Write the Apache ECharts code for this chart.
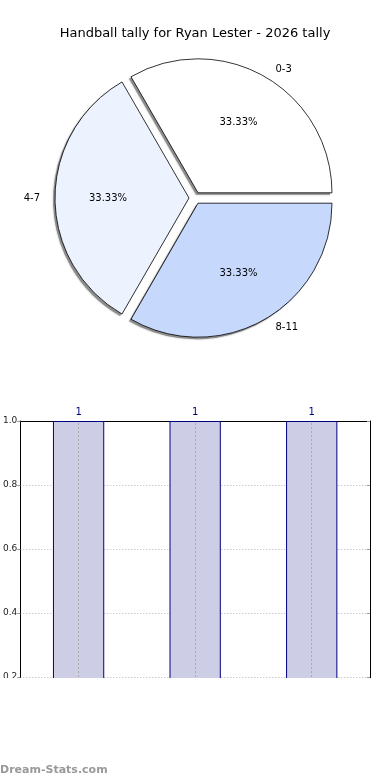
<!DOCTYPE html>
<html>
<head>
<meta charset="utf-8">
<script src="https://cdn.jsdelivr.net/npm/echarts@6/dist/echarts.min.js"></script>
<style>html,body{margin:0;padding:0;background:#fff}#c{width:390px;height:780px}</style>
</head>
<body>
<div id="c"></div>
<script>
const titleText = 'Handball tally for Ryan Lester - 2026 tally';
const categories = ['0-3', '4-7', '8-11'];
const pieValues = [1, 1, 1];
const barValues = [1, 1, 1];
const sliceColors = ['#ffffff', '#ecf2fe', '#c6d9fd'];
const yTicks = [0.0, 0.2, 0.4, 0.6, 0.8, 1.0];

const chart = echarts.init(document.getElementById('c'), null, {renderer: 'canvas'});
const font = 'DejaVu Sans';
const total = pieValues.reduce((a, b) => a + b, 0);

const pieData = categories.map((c, i) => ({
  name: c, value: pieValues[i], selected: true,
  itemStyle: {color: sliceColors[i]}
}));
const plainData = categories.map((c, i) => ({name: c, value: pieValues[i], selected: true}));

const pieCommon = {
  type: 'pie', clockwise: false, startAngle: 0,
  selectedMode: 'multiple', selectedOffset: 6, animation: false,
  avoidLabelOverlap: false, emphasis: {disabled: true}
};

chart.setOption({
  animation: false,
  title: {text: titleText, left: 'center', top: 22,
    textStyle: {fontFamily: font, fontSize: 13, fontWeight: 'normal', color: '#000'}},
  grid: {left: 20, right: 20, top: 421, height: 320},
  xAxis: {
    type: 'category', data: categories, position: 'top',
    axisLine: {show: true, onZero: false, lineStyle: {color: '#000', width: 1}},
    axisTick: {show: false}, axisLabel: {show: false}, splitLine: {show: false}
  },
  yAxis: [{
    type: 'value', min: 0, max: 1.0, interval: 0.2, position: 'left',
    axisLine: {show: true, onZero: false, lineStyle: {color: '#000', width: 1}},
    axisTick: {show: true, length: 3, lineStyle: {color: '#999'}},
    axisLabel: {fontFamily: font, fontSize: 9, color: '#222', margin: 3,
      formatter: v => v.toFixed(1)},
    splitLine: {show: true, lineStyle: {color: '#b4b4b4', type: [1, 2], width: 1}}
  }, {
    type: 'value', min: 0, max: 1.0, interval: 0.2, position: 'right',
    axisLine: {show: true, onZero: false, lineStyle: {color: '#000', width: 1}},
    axisTick: {show: true, inside: true, length: 3, lineStyle: {color: '#999'}},
    axisLabel: {show: false}, splitLine: {show: false}
  }],
  series: [
    Object.assign({}, pieCommon, {
      center: [193, 200], radius: [0, 134], silent: true, z: 1,
      data: plainData,
      itemStyle: {color: '#8c8c8c', borderWidth: 0, shadowColor: 'rgba(0,0,0,0.3)', shadowBlur: 2},
      select: {itemStyle: {color: '#8c8c8c', borderWidth: 0}},
      label: {show: false}, labelLine: {show: false}
    }),
    Object.assign({}, pieCommon, {
      center: [195, 198], radius: [0, 134], z: 2,
      data: pieData,
      itemStyle: {borderColor: '#000', borderWidth: 0.8},
      select: {itemStyle: {borderColor: '#000', borderWidth: 0.8}},
      label: {show: true, position: 'outside', formatter: '{b}',
        fontFamily: font, fontSize: 10, color: '#000', distanceToLabelLine: 5},
      labelLine: {show: false, length: 9, length2: 1}
    }),
    Object.assign({}, pieCommon, {
      center: [195, 198], radius: [22, 134], silent: true, z: 5,
      data: plainData,
      itemStyle: {color: 'rgba(0,0,0,0)', borderWidth: 0},
      select: {itemStyle: {color: 'rgba(0,0,0,0)', borderWidth: 0}},
      label: {show: true, position: 'inside',
        formatter: p => (p.value / total * 100).toFixed(2) + '%',
        fontFamily: font, fontSize: 10, color: '#000'},
      labelLine: {show: false}
    }),
    {
      type: 'bar', data: barValues, barWidth: '44%', z: 2,
      itemStyle: {color: '#cdcde6', borderColor: '#000080', borderWidth: 1},
      label: {show: true, position: 'top', distance: 4, fontFamily: font, fontSize: 10, color: '#000080'},
      emphasis: {disabled: true},
      markLine: {
        silent: true, symbol: 'none', label: {show: false}, animation: false,
        lineStyle: {color: '#aaa', type: [2, 2], width: 1},
        emphasis: {disabled: true},
        data: categories.map(c => ({xAxis: c}))
      }
    }
  ],
  graphic: [{
    type: 'rect', left: 0, top: 678, z: 100,
    shape: {width: 390, height: 82}, style: {fill: '#fff'}
  }, {
    type: 'text', left: 0, top: 765, z: 101,
    style: {text: 'Dream-Stats.com', fontFamily: font, fontSize: 11, fontWeight: 'bold', fill: '#999'}
  }]
});
</script>
</body>
</html>
